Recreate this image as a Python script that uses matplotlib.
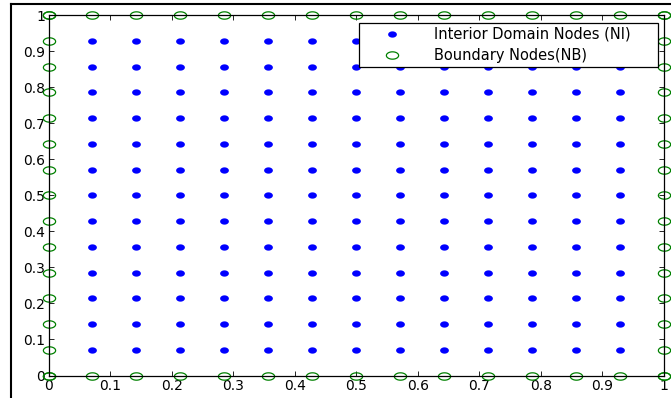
import numpy as np
import matplotlib
matplotlib.use('Agg')
import matplotlib.pyplot as plt
from matplotlib.path import Path
from matplotlib.lines import Line2D

# the original screenshot is stretched sideways, DejaVu's wider glyphs fit it better
plt.rcParams['font.family'] = ['DejaVu Sans']

# grid of nodes on the unit square, 14 intervals per side
n = 14
h = 1.0 / n
interior_pts = [h * k for k in range(1, n)]
edge_pts = [h * k for k in range(0, n + 1)]
ticks = [0, 0.1, 0.2, 0.3, 0.4, 0.5, 0.6, 0.7, 0.8, 0.9, 1]
tick_labels = ['0', '0.1', '0.2', '0.3', '0.4', '0.5', '0.6', '0.7', '0.8', '0.9', '1']
labels = ['Interior Domain Nodes (NI)', 'Boundary Nodes(NB)']

xi, yi = np.meshgrid(interior_pts, interior_pts)
xi = xi.ravel()
yi = yi.ravel()

e = np.array(edge_pts)
xb = np.concatenate([e, e, np.zeros_like(e), np.ones_like(e)])
yb = np.concatenate([np.zeros_like(e), np.ones_like(e), e, e])

# flattened markers
t = np.linspace(0, 2 * np.pi, 61)
ell = Path(np.column_stack([np.cos(t), 0.6 * np.sin(t)]), closed=True)
dot = Path(np.column_stack([np.cos(t), 0.72 * np.sin(t)]), closed=True)

fig = plt.figure(figsize=(6.71, 3.98), dpi=100)
ax = fig.add_axes([0.0723, 0.0565, 0.9173, 0.9051])

ax.plot(xi, yi, linestyle='none', marker=dot, markersize=6.3,
        color='#0000ff', markeredgewidth=0, clip_on=False, label=labels[0])
ax.plot(xb, yb, linestyle='none', marker=ell, markersize=8.8,
        markerfacecolor='none', markeredgecolor='#008000',
        markeredgewidth=0.9, clip_on=False, label=labels[1])

ax.set_xlim(0, 1)
ax.set_ylim(0, 1)
ax.set_xticks(ticks)
ax.set_xticklabels(tick_labels)
ax.set_yticks(ticks)
ax.set_yticklabels(tick_labels)
ax.tick_params(direction='in', length=3.5, width=0.6, top=True, right=True,
               labelsize=10, pad=2.5)
for s in ax.spines.values():
    s.set_linewidth(0.9)

leg = ax.legend(loc='upper left', bbox_to_anchor=(0.5045, 0.8565, 0.4855, 0.1221),
                mode='expand', borderaxespad=0, fancybox=False, framealpha=1,
                edgecolor='black', fontsize=10.5, borderpad=0.25, labelspacing=0.45,
                handlelength=4, handletextpad=0.9)
leg.get_frame().set_linewidth(0.9)

# frame of the surrounding window, cut off on right and bottom
W, H = 671.0, 398.0
fig.add_artist(Line2D([10.5 / W, 10.5 / W], [0, 1 - 3.5 / H],
                      color='black', linewidth=1.5, transform=fig.transFigure))
fig.add_artist(Line2D([10.5 / W, 1], [1 - 3.5 / H, 1 - 3.5 / H],
                      color='black', linewidth=1.5, transform=fig.transFigure))

fig.savefig('out.png', dpi=100)
